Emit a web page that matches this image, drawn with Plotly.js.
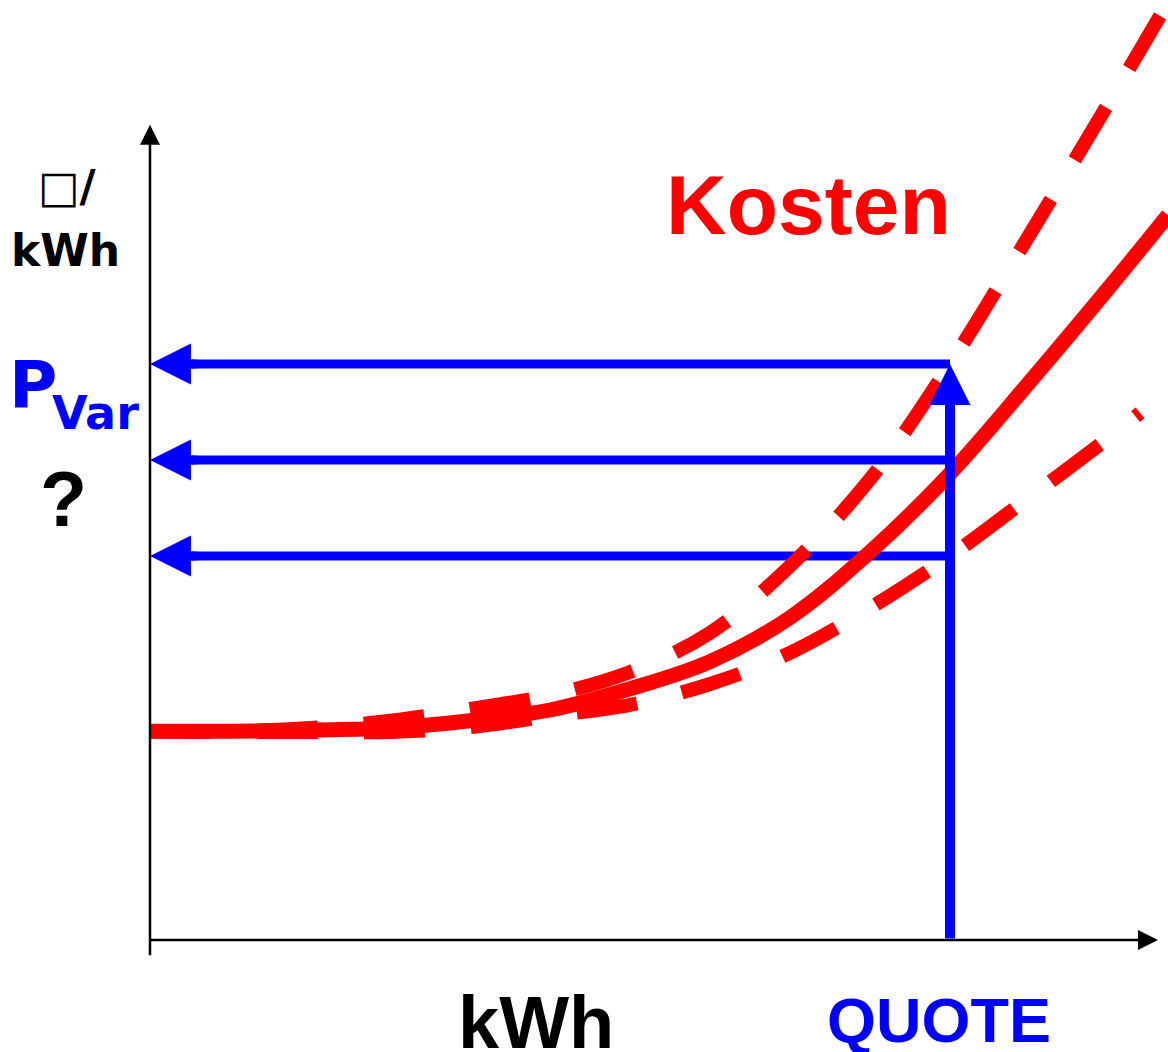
<!DOCTYPE html>
<html>
<head>
<meta charset="utf-8">
<script src="https://cdn.plot.ly/plotly-3.0.1.min.js"></script>
<style>html,body{margin:0;padding:0;background:#fff;}</style>
</head>
<body>
<div id="chart" style="width:1168px;height:1052px;"></div>
<script>
// ---- data (schematic units) ----
const kwhMid  = [0, 10, 20, 30, 40, 50, 60, 70, 80, 90, 100, 110, 120, 127.25];
const costMid = [26.1, 26.1, 26.25, 26.5, 27.4, 28.75, 31.4, 34.8, 40.3, 48.5, 58.3, 69.8, 81.7, 90.6];

const kwhHigh  = [0, 10, 20, 30, 40, 50, 60, 70, 80, 90, 100, 110, 120, 127.25];
const costHigh = [26.1, 26.1, 26.5, 27.4, 28.9, 30.6, 33.5, 38.4, 46.75, 57.6, 72, 88.25, 104.9, 117.2];

const kwhLow  = [0, 10, 20, 30, 40, 50, 60, 70, 80, 90, 100, 110, 120, 123.75];
const costLow = [26.1, 26, 26, 26, 26.6, 28, 29.4, 32, 35.9, 41.5, 48, 55.4, 62.9, 65.9];

const quote = 100;
const priceLevels = [72, 60, 48];

const labelKosten = 'Kosten';
const labelYUnitTop = '\u25A1/';
const labelYUnit = 'kWh';
const labelP = 'P';
const labelVar = 'Var';
const labelQuestion = '?';
const labelX = 'kWh';
const labelQuote = 'QUOTE';

const RED = '#ff0000', BLUE = '#0000ff', BLACK = '#000000';

const traces = [];
// horizontal blue lines (drawn beneath the red curves); arrowheads added as annotations
priceLevels.forEach(p => {
  traces.push({x: [2.5, quote], y: [p, p], mode: 'lines', type: 'scatter',
    line: {color: BLUE, width: 9}, hoverinfo: 'skip'});
});
traces.push({x: kwhLow, y: costLow, mode: 'lines', type: 'scatter',
  line: {color: RED, width: 14, dash: '61px,46px', shape: 'spline'}, hoverinfo: 'skip'});
traces.push({x: kwhHigh, y: costHigh, mode: 'lines', type: 'scatter',
  line: {color: RED, width: 14, dash: '61px,46px', shape: 'spline'}, hoverinfo: 'skip'});
traces.push({x: kwhMid, y: costMid, mode: 'lines', type: 'scatter',
  line: {color: RED, width: 15, shape: 'spline'}, hoverinfo: 'skip'});

const ann = [];
// axes with arrowheads
ann.push({x: 126, y: 0, ax: -0.25, ay: 0, xref: 'x', yref: 'y', axref: 'x', ayref: 'y',
  text: '', showarrow: true, arrowhead: 2, arrowsize: 1.6, arrowwidth: 2.5, arrowcolor: BLACK});
ann.push({x: 0, y: 101.9, ax: 0, ay: -2.1, xref: 'x', yref: 'y', axref: 'x', ayref: 'y',
  text: '', showarrow: true, arrowhead: 2, arrowsize: 1.6, arrowwidth: 2.5, arrowcolor: BLACK});
// arrowheads of the horizontal price arrows
priceLevels.forEach(p => {
  ann.push({x: 0, y: p, ax: 6, ay: p, xref: 'x', yref: 'y', axref: 'x', ayref: 'y',
    text: '', showarrow: true, arrowhead: 2, arrowsize: 0.91, arrowwidth: 9, arrowcolor: BLUE});
});
// vertical quote arrow
ann.push({x: quote, y: priceLevels[0], ax: quote, ay: 0, xref: 'x', yref: 'y', axref: 'x', ayref: 'y',
  text: '', showarrow: true, arrowhead: 2, arrowsize: 0.82, arrowwidth: 10, arrowcolor: BLUE});

const boldArial = (size, color) => ({family: 'Liberation Sans, Arial, sans-serif', size: size, color: color, weight: 'bold'});
const boldDejaVu = (size, color) => ({family: 'DejaVu Sans, sans-serif', size: size, color: color, weight: 'bold'});

const txt = (x, y, text, font, xanchor) => ({x: x, y: y, xref: 'paper', yref: 'paper', text: text,
  showarrow: false, font: font, xanchor: xanchor || 'center', yanchor: 'middle'});

ann.push(txt(0.6473, 0.7819, '<b>' + labelKosten + '</b>', boldArial(84, RED)));
ann.push(txt(-0.0810, 0.8021, '<span style="font-weight:normal">\u25A1</span><b>/</b>', boldDejaVu(44, BLACK)));
ann.push(txt(-0.0830, 0.7330, '<b>' + labelYUnit + '</b>', boldDejaVu(44, BLACK)));
ann.push(txt(-0.1405, 0.5904, '<b>' + labelP + '</b>', boldDejaVu(66, BLUE), 'left'));
ann.push(txt(-0.0983, 0.5610, '<b>' + labelVar + '</b>', boldDejaVu(46, BLUE), 'left'));
ann.push(txt(-0.0845, 0.4690, '<b>' + labelQuestion + '</b>', boldArial(77, BLACK)));
ann.push(txt(0.3792, -0.0878, '<b>' + labelX + '</b>', boldArial(74, BLACK)));
ann.push(txt(0.7750, -0.0851, '<b>' + labelQuote + '</b>', boldArial(63, BLUE)));

const layout = {
  width: 1168, height: 1052,
  margin: {l: 150, r: 0, t: 0, b: 112, pad: 0},
  paper_bgcolor: '#ffffff', plot_bgcolor: '#ffffff',
  showlegend: false,
  xaxis: {range: [0, 127.25], visible: false, showgrid: false, zeroline: false, fixedrange: true},
  yaxis: {range: [0, 117.5], visible: false, showgrid: false, zeroline: false, fixedrange: true},
  annotations: ann
};

Plotly.newPlot('chart', traces, layout, {staticPlot: true, displayModeBar: false});
</script>
</body>
</html>
